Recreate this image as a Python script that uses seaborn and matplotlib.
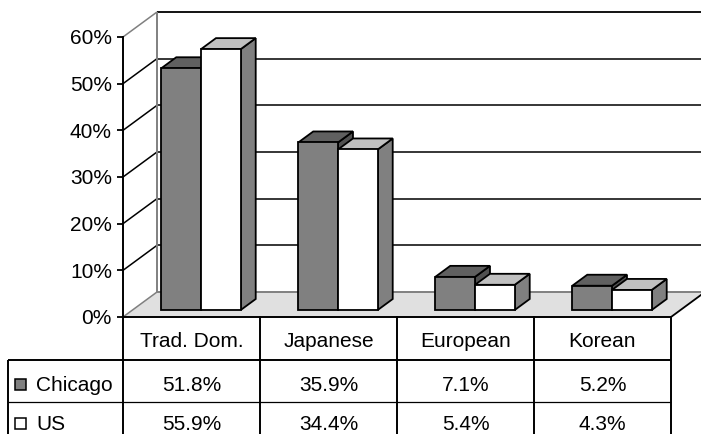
"""Excel-style 3D clustered bar chart with data table: Chicago vs US market share."""
import matplotlib
matplotlib.use("Agg")
import matplotlib.pyplot as plt
import pandas as pd
import seaborn as sns
from matplotlib.patches import Polygon, Rectangle
from matplotlib.transforms import IdentityTransform, ScaledTranslation

categories = ["Trad. Dom.", "Japanese", "European", "Korean"]
series = ["Chicago", "US"]
chicago = [51.8, 35.9, 7.1, 5.2]
us = [55.9, 34.4, 5.4, 4.3]
yticks = [0, 10, 20, 30, 40, 50, 60]

W, H = 701, 434
DEPTH = (34, 25)          # pixel shift from the front plane to the back wall
BAR_D = (0.28, 0.72)      # depth span of the bars (0 = front, 1 = back)
FRONT = {"Chicago": "#808080", "US": "#ffffff"}
TOP = {"Chicago": "#606060", "US": "#c0c0c0"}
SIDE = {"Chicago": "#505050", "US": "#808080"}
FLOOR = "#e0e0e0"
EDGE_GRAY = "#808080"

sns.set_theme(style="white")
plt.rcParams["font.family"] = ["Liberation Sans", "DejaVu Sans"]
plt.rcParams["text.color"] = "black"

df = pd.DataFrame({
    "category": categories * 2,
    "series": [series[0]] * len(chicago) + [series[1]] * len(us),
    "share": chicago + us,
})

fig = plt.figure(figsize=(W / 100, H / 100), dpi=100)
ax = fig.add_axes([123 / W, (H - 317) / H, 548 / W, 280 / H])
ax.patch.set_visible(False)

sns.barplot(data=df, x="category", y="share", hue="series", hue_order=series,
            palette=FRONT, width=0.58, saturation=1, edgecolor="black",
            linewidth=1.3, legend=False, ax=ax)
bars = [b for b in ax.patches if isinstance(b, Rectangle) and b.get_width() > 0]
bars = sorted(bars, key=lambda p: p.get_x())
ax.set_xlim(-0.5, len(categories) - 0.5)
ax.set_ylim(yticks[0], yticks[-1])

PIX = IdentityTransform()


def proj(x, y, d):
    px, py = ax.transData.transform((x, y))
    return px + DEPTH[0] * d, py + DEPTH[1] * d


def poly(pts, fc, ec="black", lw=1.3, z=1):
    ax.add_patch(Polygon(pts, closed=True, facecolor=fc, edgecolor=ec, lw=lw,
                         transform=PIX, clip_on=False, zorder=z, joinstyle="miter"))


def seg(p, q, color="black", lw=1.1, z=1.5):
    ax.plot([p[0], q[0]], [p[1], q[1]], color=color, lw=lw, transform=PIX,
            clip_on=False, zorder=z, solid_capstyle="butt")


x_lo, x_hi = ax.get_xlim()
y_lo, y_hi = ax.get_ylim()

# walls and floor
poly([proj(x_lo, y_lo, 1), proj(x_hi, y_lo, 1), proj(x_hi, y_hi, 1), proj(x_lo, y_hi, 1)],
     "white", ec="none", z=0.5)
poly([proj(x_lo, y_lo, 0), proj(x_lo, y_lo, 1), proj(x_lo, y_hi, 1), proj(x_lo, y_hi, 0)],
     "white", ec="none", z=0.5)
poly([proj(x_lo, y_lo, 0), proj(x_hi, y_lo, 0), proj(x_hi, y_lo, 1), proj(x_lo, y_lo, 1)],
     FLOOR, ec="none", z=0.6)
for v in yticks[1:]:
    seg(proj(x_lo, v, 1), proj(x_hi, v, 1), lw=1.3 if v == y_hi else 1.1)
    seg(proj(x_lo, v, 0), proj(x_lo, v, 1), color=EDGE_GRAY if v == y_hi else "black")
seg(proj(x_lo, y_lo, 0), proj(x_lo, y_lo, 1), color=EDGE_GRAY)
seg(proj(x_lo, y_lo, 1), proj(x_hi, y_lo, 1), color=EDGE_GRAY, lw=1.4)
seg(proj(x_lo, y_lo, 1), proj(x_lo, y_hi, 1), color=EDGE_GRAY, lw=1.4)
seg(proj(x_hi, y_lo, 0), proj(x_hi, y_lo, 1), lw=1.3)

# 3D boxes built around the seaborn bars
d0, d1 = BAR_D
shift = ScaledTranslation(DEPTH[0] * d0 / 100, DEPTH[1] * d0 / 100, fig.dpi_scale_trans)
for i, bar in enumerate(bars):
    name = series[i % len(series)]
    z = 5 + i * 0.1
    x0, x1, h = bar.get_x(), bar.get_x() + bar.get_width(), bar.get_height()
    bar.set_transform(ax.transData + shift)
    bar.set_clip_on(False)
    bar.set_zorder(z + 0.03)
    bar.set_joinstyle("miter")
    poly([proj(x1, 0, d0), proj(x1, 0, d1), proj(x1, h, d1), proj(x1, h, d0)], SIDE[name], z=z)
    poly([proj(x0, h, d0), proj(x1, h, d0), proj(x1, h, d1), proj(x0, h, d1)], TOP[name], z=z + 0.01)

# axis styling
sns.despine(ax=ax, top=True, right=True, bottom=True)
ax.spines["left"].set_color("black")
ax.spines["left"].set_linewidth(1.4)
ax.spines["left"].set_zorder(3)
ax.set_yticks(yticks)
ax.set_yticklabels([f"{v}%" for v in yticks])
ax.tick_params(axis="y", left=True, direction="out", length=4.5, width=1.3,
               color="black", labelcolor="black", labelsize=15, pad=3.5)
ax.set_xticks([])
ax.set_xlabel("")
ax.set_ylabel("")

# data table under the plot
top_y = proj(x_lo, y_lo, 0)[1]
rows = [top_y, top_y - 43, top_y - 85]       # top edge of header, Chicago, US rows
text_off = [30, 31, 28]                      # baseline offset inside each row
cols = [proj(x_lo + k, y_lo, 0)[0] for k in range(len(categories) + 1)]
left_x = 8
bottom = -5
seg((cols[0], rows[0]), (cols[-1], rows[0]), lw=1.4, z=3)
seg((left_x, rows[1]), (cols[-1], rows[1]), lw=1.4, z=3)
seg((left_x, rows[2]), (cols[-1], rows[2]), lw=0.9, z=3)
for cx in cols:
    seg((cx, rows[0] + 0.7), (cx, bottom), lw=1.4, z=3)
seg((left_x, rows[1]), (left_x, bottom), lw=1.4, z=3)

for k, cat in enumerate(categories):
    cx = (cols[k] + cols[k + 1]) / 2
    ax.text(cx, rows[0] - text_off[0], cat, ha="center", va="baseline", fontsize=15,
            transform=PIX, clip_on=False)
    for r, vals in enumerate([chicago, us]):
        ax.text(cx, rows[r + 1] - text_off[r + 1], f"{vals[k]:.1f}%", ha="center",
                va="baseline", fontsize=15, transform=PIX, clip_on=False)
for r, name in enumerate(series):
    base = rows[r + 1] - text_off[r + 1]
    ax.add_patch(Rectangle((15, base + 1.5), 10.5, 10.5, facecolor=FRONT[name],
                           edgecolor="black", lw=1.1, transform=PIX, clip_on=False, zorder=3))
    ax.text(36, base, name, ha="left", va="baseline", fontsize=15,
            transform=PIX, clip_on=False)

fig.savefig("out.png", dpi=100)
